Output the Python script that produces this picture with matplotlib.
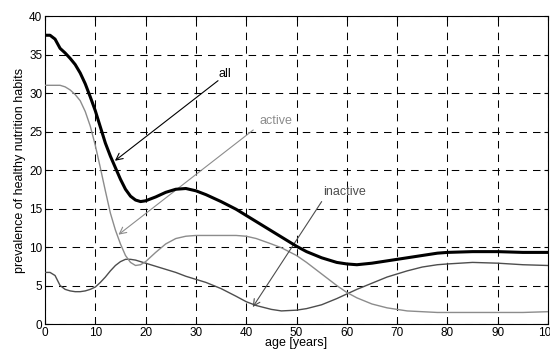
import matplotlib
matplotlib.use('Agg')
import matplotlib.pyplot as plt

# values
ages = [0, 1, 2, 3, 4, 5, 6, 7, 8, 9, 10, 11, 12, 13, 14, 15, 16, 17, 18, 19, 20,
        22, 24, 26, 28, 30, 32, 35, 38, 40, 42, 45, 47, 50, 52, 55, 58, 60, 62,
        65, 68, 70, 72, 75, 78, 80, 85, 90, 95, 100]

all_vals = [37.5, 37.5, 37.0, 35.8, 35.2, 34.5, 33.7, 32.6, 31.2, 29.5, 27.7,
            25.6, 23.5, 21.8, 20.3, 18.8, 17.5, 16.6, 16.1, 15.9, 16.0,
            16.5, 17.1, 17.5, 17.6, 17.3, 16.8, 15.9, 14.9, 14.1, 13.3, 12.1,
            11.3, 10.1, 9.4, 8.6, 8.0, 7.8, 7.7, 7.9, 8.2, 8.4, 8.6, 8.9, 9.2,
            9.3, 9.4, 9.4, 9.3, 9.3]

active = [31.0, 31.0, 31.0, 31.0, 30.8, 30.4, 29.8, 29.0, 27.6, 25.7, 23.2,
          20.3, 17.3, 14.4, 12.2, 10.4, 8.9, 8.0, 7.6, 7.7, 8.1,
          9.3, 10.4, 11.1, 11.4, 11.5, 11.5, 11.5, 11.5, 11.4, 11.1, 10.4,
          9.9, 8.9, 8.0, 6.5, 5.0, 4.1, 3.4, 2.6, 2.1, 1.9, 1.7, 1.6, 1.5,
          1.5, 1.5, 1.5, 1.5, 1.6]

inactive = [6.7, 6.7, 6.3, 5.0, 4.5, 4.3, 4.2, 4.2, 4.3, 4.5, 4.8,
            5.4, 6.1, 6.9, 7.6, 8.1, 8.4, 8.4, 8.3, 8.1, 7.9,
            7.5, 7.1, 6.7, 6.2, 5.8, 5.4, 4.6, 3.6, 2.9, 2.4, 1.9,
            1.7, 1.8, 2.0, 2.5, 3.3, 3.9, 4.5, 5.3, 6.1, 6.5, 6.9, 7.4, 7.7,
            7.8, 8.0, 7.9, 7.7, 7.6]

# label text, label position, arrow tail, arrow tip
labels = ['all', 'active', 'inactive']
label_pos = [(35.7, 32.5), (46, 26.3), (59.5, 17.2)]
arrow_tail = [(34.4, 31.6), (41.4, 25.2), (55.0, 15.9)]
arrow_tip = [(13.9, 21.2), (14.6, 11.6), (41.3, 2.2)]
colors = ['black', '#8c8c8c', '#4d4d4d']

plt.rcParams['font.family'] = ['Liberation Sans', 'DejaVu Sans']

fig = plt.figure(figsize=(5.5, 3.54), dpi=100)
ax = fig.add_axes([0.0818, 0.0847, 0.9146, 0.8701])

ax.plot(ages, inactive, color=colors[2], lw=1.0, zorder=3)
ax.plot(ages, active, color=colors[1], lw=1.0, zorder=3)
ax.plot(ages, all_vals, color=colors[0], lw=2.2, zorder=4)

for lab, lp, tail, tip, c in zip(labels, label_pos, arrow_tail, arrow_tip, colors):
    ax.annotate('', xy=tip, xytext=tail,
                arrowprops=dict(arrowstyle='->', color=c, lw=0.8,
                                shrinkA=0, shrinkB=0, mutation_scale=12))
    ax.text(lp[0], lp[1], lab, color=c, fontsize=9, ha='center', va='center')

ax.set_xlim(0, 100)
ax.set_ylim(0, 40)
ax.set_xticks(range(0, 101, 10))
ax.set_yticks(range(0, 41, 5))
ax.grid(True, color='black', lw=0.75, linestyle=(0, (7.2, 5.8)))
ax.set_axisbelow(True)
ax.tick_params(direction='in', top=True, right=True, length=3, labelsize=8.5, pad=2)
for s in ax.spines.values():
    s.set_linewidth(0.8)

ax.set_xlabel('age [years]', fontsize=9, labelpad=-1)
ax.set_ylabel('prevalence of healthy nutrition habits', fontsize=9, labelpad=2)

fig.savefig('out.png', dpi=100)
